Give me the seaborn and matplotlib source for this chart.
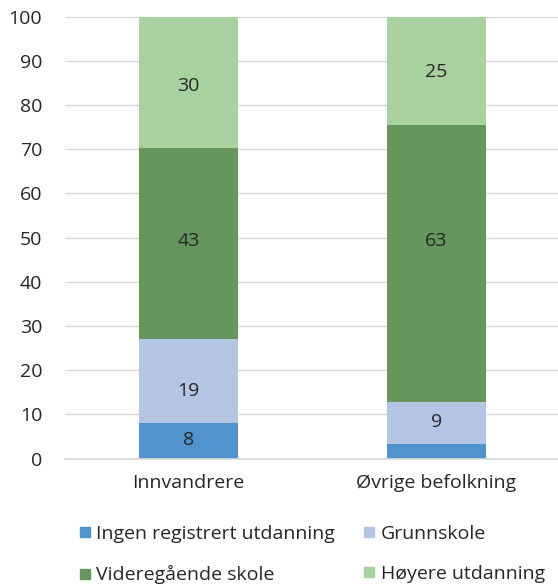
import numpy as np
import pandas as pd
import matplotlib
matplotlib.use("Agg")
import matplotlib.pyplot as plt
from matplotlib.lines import Line2D
import seaborn as sns

# Data (percent)
categories = ["Innvandrere", "Øvrige befolkning"]
series = ["Ingen registrert utdanning", "Grunnskole", "Videregående skole", "Høyere utdanning"]
ingen = [8.1, 3.4]
grunnskole = [18.9, 9.4]
videregaende = [43.3, 62.6]
hoyere = [29.7, 24.6]
# label heights as placed in the reference (None = no label)
label_y = {
    "Ingen registrert utdanning": [4.2, None],
    "Grunnskole": [15.3, 8.3],
    "Videregående skole": [49.2, 49.2],
    "Høyere utdanning": [84.3, 87.5],
}
colors = ["#5093cd", "#b4c5e4", "#66965e", "#a9d19f"]

sns.set_theme(style="white")
plt.rcParams["font.family"] = ["Open Sans", "DejaVu Sans"]

df = pd.DataFrame({
    "kategori": categories,
    series[0]: ingen,
    series[1]: grunnskole,
    series[2]: videregaende,
    series[3]: hoyere,
})

fig = plt.figure(figsize=(5.58, 5.85), dpi=100)
ax = fig.add_axes([0.1156, 0.2162, 0.889, 0.7553])

bottom = np.zeros(len(categories))
for name, col in zip(series, colors):
    vals = df[name].to_numpy()
    sns.barplot(x=df["kategori"], y=vals, bottom=bottom, color=col, width=0.4,
                saturation=1, ax=ax, zorder=3, linewidth=0)
    for i, v in enumerate(vals):
        ly = label_y[name][i]
        if ly is not None:
            ax.text(i, ly, f"{v:.0f}", ha="center", va="center",
                    fontsize=14, color="#262626", zorder=4)
    bottom += vals

ax.set_ylim(0, 100)
ax.set_xlim(-0.5, 1.5)
ax.set_yticks(range(0, 101, 10))
ax.yaxis.grid(True, color="#d9d9d9", linewidth=1, zorder=0)
ax.set_xlabel("")
ax.set_ylabel("")
for s in ["top", "right", "left"]:
    ax.spines[s].set_visible(False)
ax.spines["bottom"].set_color("#d9d9d9")
ax.spines["bottom"].set_zorder(5)
ax.tick_params(axis="y", length=0, labelsize=14, labelcolor="#262626", pad=16)
ax.tick_params(axis="x", length=0, labelsize=14, labelcolor="#262626", pad=11)
ax.set_xticks([0.5], minor=True)
ax.tick_params(axis="x", which="minor", length=5, color="#d9d9d9", width=1)

# legend filled row-wise like the reference
order = [0, 2, 1, 3]
handles = [Line2D([0], [0], marker="s", linestyle="", markersize=7,
                  markerfacecolor=colors[k], markeredgecolor=colors[k]) for k in order]
labels = [series[k] for k in order]
fig.legend(handles, labels, ncol=2, loc="upper left", bbox_to_anchor=(0.1415, 0.1027),
           frameon=False, fontsize=14, handlelength=0.6, handletextpad=0.3,
           columnspacing=1.45, labelspacing=1.15, labelcolor="#262626",
           borderaxespad=0, borderpad=0)

fig.savefig("out.png", dpi=100)
